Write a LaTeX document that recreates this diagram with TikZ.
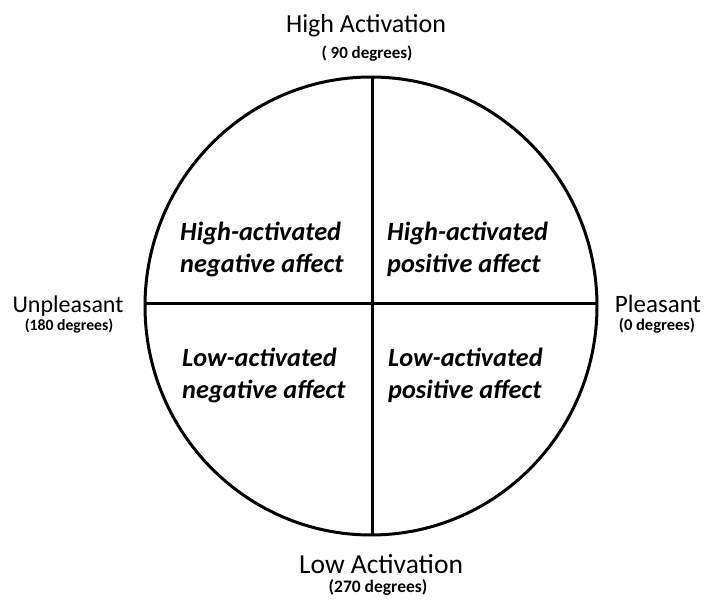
\documentclass[tikz,border=0pt]{standalone}
\usepackage{fontspec}
\setmainfont{Carlito}
\begin{document}
\begin{tikzpicture}[x=1pt,y=-1pt,
  axislabel/.style={inner sep=0pt, anchor=base},
  deglabel/.style={inner sep=0pt, anchor=base},
  quadlabel/.style={font=\bfseries\itshape\fontsize{26.3}{32}\selectfont, inner sep=0pt, align=left, anchor=base west},
  rim/.style={line width=3pt}]
  \useasboundingbox (0,0) rectangle (705,602);
  \fill[white] (0,0) rectangle (705,602);

  % circumplex outline and its two axes
  \draw[rim] (371,306) ellipse [x radius=226, y radius=229];
  \coordinate (top) at (372,77);
  \coordinate (bottom) at (372,535);
  \coordinate (west) at (145,303);
  \coordinate (east) at (597,303);
  \draw[rim] (top) -- (bottom);
  \draw[rim] (west) -- (east);

  % pole labels
  \node[axislabel, font=\fontsize{26}{30}\selectfont] (high) at (366,33) {High Activation};
  \node[deglabel, font=\bfseries\fontsize{17}{20}\selectfont] (highdeg) at (367,59) {( 90 degrees)};
  \node[axislabel, font=\fontsize{24}{28}\selectfont] (unpl) at (68,312) {Unpleasant};
  \node[deglabel, font=\bfseries\fontsize{15.7}{19}\selectfont] (unpldeg) at (69,330) {(180 degrees)};
  \node[axislabel, font=\fontsize{25}{29}\selectfont] (pleas) at (658,312) {Pleasant};
  \node[deglabel, font=\bfseries\fontsize{16.5}{19}\selectfont] (pleasdeg) at (657,330) {(0 degrees)};
  \node[axislabel, font=\fontsize{27.5}{32}\selectfont] (low) at (381,573) {Low Activation};
  \node[deglabel, font=\bfseries\fontsize{17.5}{20}\selectfont] (lowdeg) at (378,592) {(270 degrees)};

  % quadrant labels
  \node[quadlabel] (hna) at (180,272) {High-activated\\negative affect};
  \node[quadlabel] (hpa) at (387,272) {High-activated\\positive affect};
  \node[quadlabel] (lna) at (182,398) {Low-activated\\negative affect};
  \node[quadlabel] (lpa) at (388,398) {Low-activated\\positive affect};
\end{tikzpicture}
\end{document}
